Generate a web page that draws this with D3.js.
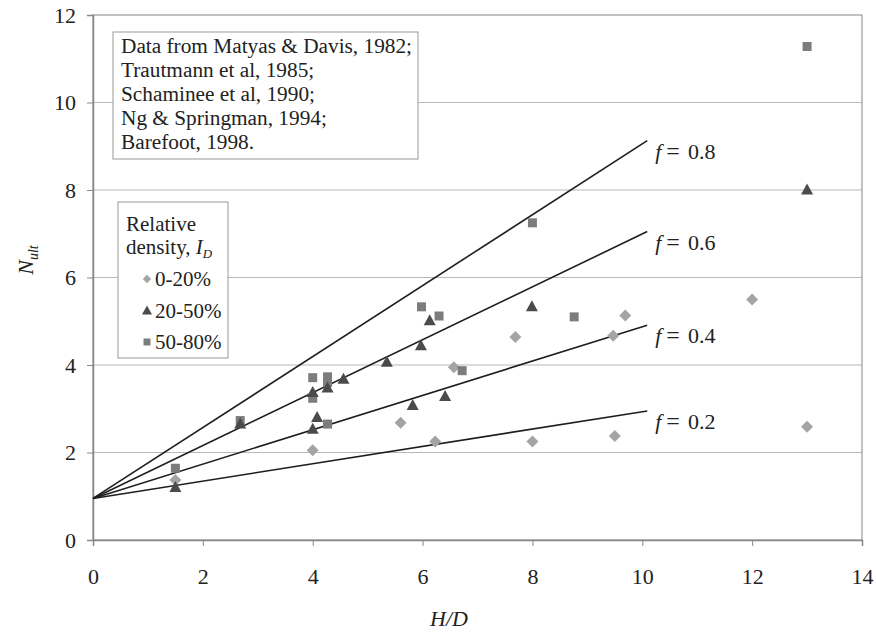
<!DOCTYPE html>
<html><head><meta charset="utf-8">
<script src="https://cdn.jsdelivr.net/npm/d3@7"></script>
</head>
<body style="margin:0"><svg id="c" width="876" height="639"></svg>
<script>
// ---- data ----
const xTicks = [0, 2, 4, 6, 8, 10, 12, 14];
const yTicks = [0, 2, 4, 6, 8, 10, 12];

// Relative density 0-20% (diamonds)
const looseHD = [1.5, 4.0, 5.6, 6.23, 6.57, 7.69, 8.0, 9.47, 9.69, 9.5, 12.0, 13.0];
const looseN  = [1.37, 2.05, 2.68, 2.25, 3.95, 4.64, 2.25, 4.67, 5.13, 2.38, 5.5, 2.59];

// Relative density 20-50% (triangles)
const mediumHD = [1.5, 2.68, 4.0, 4.08, 4.0, 4.27, 4.56, 5.35, 5.82, 5.97, 6.13, 6.41, 7.99, 13.0];
const mediumN  = [1.2, 2.65, 3.37, 2.8, 2.53, 3.47, 3.67, 4.06, 3.07, 4.44, 5.01, 3.28, 5.33, 8.0];

// Relative density 50-80% (squares)
const denseHD = [1.5, 2.68, 4.0, 4.0, 4.27, 4.27, 4.27, 5.98, 6.3, 6.72, 8.0, 8.76, 13.0];
const denseN  = [1.64, 2.73, 3.71, 3.24, 3.73, 3.6, 2.65, 5.33, 5.12, 3.87, 7.25, 5.1, 11.28];

// f lines: from (0, lineStartN) to (lineEndHD, lineEndN[i])
const fValues = ["0.8", "0.6", "0.4", "0.2"];
const lineStartN = 0.95;
const lineEndHD = 10.09;
const lineEndN = [9.13, 7.05, 4.91, 2.95];

const sourceLines = ["Data from Matyas & Davis, 1982;", "Trautmann et al, 1985;",
  "Schaminee et al, 1990;", "Ng & Springman, 1994;", "Barefoot, 1998."];
const legendLabels = ["0-20%", "20-50%", "50-80%"];

// ---- drawing ----
const FONT = '"Liberation Serif"';
const svg = d3.select("#c");
const L = 93, R = 862, T = 15, B = 540;
const x = d3.scaleLinear().domain([0, 14]).range([L, R]);
const y = d3.scaleLinear().domain([0, 12]).range([B, T]);

const colLoose = "#a4a4a4", colMed = "#4b4b4b", colDense = "#7c7c7c";

// gridlines
svg.append("g").selectAll("line").data(yTicks.filter(v => v > 0 && v < 12)).join("line")
  .attr("x1", L).attr("x2", R).attr("y1", d => y(d)).attr("y2", d => y(d))
  .attr("stroke", "#b8b8b8").attr("stroke-width", 1);

// plot border
svg.append("rect").attr("x", L).attr("y", T).attr("width", R - L).attr("height", B - T)
  .attr("fill", "none").attr("stroke", "#999").attr("stroke-width", 1.2);

// axes
const xAxis = svg.append("g").attr("transform", `translate(0,${B})`)
  .call(d3.axisBottom(x).tickValues(xTicks).tickSize(6).tickPadding(22).tickFormat(d3.format("d")));
const yAxis = svg.append("g").attr("transform", `translate(${L},0)`)
  .call(d3.axisLeft(y).tickValues(yTicks).tickSize(6).tickPadding(11).tickFormat(d3.format("d")));
[xAxis, yAxis].forEach(g => {
  g.attr("font-family", null).attr("font-size", null);
  g.select(".domain").attr("stroke", "#888").attr("stroke-width", 1.5);
  g.selectAll(".tick line").attr("stroke", "#888");
  g.selectAll(".tick text").attr("font-size", 22);
});

// f lines
const lineG = svg.append("g");
fValues.forEach((f, i) => {
  lineG.append("line")
    .attr("x1", x(0)).attr("y1", y(lineStartN))
    .attr("x2", x(lineEndHD)).attr("y2", y(lineEndN[i]))
    .attr("stroke", "#1e1e1e").attr("stroke-width", 1.6);
  const t = lineG.append("text")
    .attr("x", x(lineEndHD) + 8).attr("y", y(lineEndN[i]) + 18)
    .attr("font-size", 22);
  t.append("tspan").attr("font-style", "italic").text("f");
  t.append("tspan").attr("dx", 5).attr("font-size", 24).text("=");
  t.append("tspan").attr("dx", 8).text(f);
});

// markers
const diamond = s => `M0,${-s}L${s},0L0,${s}L${-s},0Z`;
const triangle = (w, h) => `M0,${-h * 0.6}L${w / 2},${h * 0.4}L${-w / 2},${h * 0.4}Z`;
const square = s => `M${-s / 2},${-s / 2}h${s}v${s}h${-s}Z`;

svg.append("g").selectAll("path").data(d3.zip(looseHD, looseN)).join("path")
  .attr("d", diamond(6)).attr("fill", colLoose)
  .attr("transform", d => `translate(${x(d[0])},${y(d[1])})`);
svg.append("g").selectAll("path").data(d3.zip(denseHD, denseN)).join("path")
  .attr("d", square(9)).attr("fill", colDense)
  .attr("transform", d => `translate(${x(d[0])},${y(d[1])})`);
svg.append("g").selectAll("path").data(d3.zip(mediumHD, mediumN)).join("path")
  .attr("d", triangle(12, 11)).attr("fill", colMed)
  .attr("transform", d => `translate(${x(d[0])},${y(d[1])})`);

// source box
const sb = svg.append("g");
sb.append("rect").attr("x", 113).attr("y", 32).attr("width", 305).attr("height", 127)
  .attr("fill", "#fff").attr("stroke", "#999").attr("stroke-width", 1);
sb.selectAll("text").data(sourceLines).join("text")
  .attr("x", 121).attr("y", (d, i) => 53 + i * 24).attr("font-size", 21.3).text(d => d);

// legend box
const lg = svg.append("g");
lg.append("rect").attr("x", 118).attr("y", 202).attr("width", 110).attr("height", 156)
  .attr("fill", "#fff").attr("stroke", "#999").attr("stroke-width", 1);
lg.append("text").attr("x", 126).attr("y", 231).attr("font-size", 21).text("Relative");
const dt = lg.append("text").attr("x", 126).attr("y", 254).attr("font-size", 21);
dt.append("tspan").text("density, ");
dt.append("tspan").attr("font-style", "italic").text("I");
dt.append("tspan").attr("font-style", "italic").attr("font-size", 13).attr("dy", 4).text("D");
const legY = [279, 311, 342];
const legShapes = [diamond(4.2), triangle(10, 9), square(7)];
const legCols = [colLoose, colMed, colDense];
legendLabels.forEach((lab, i) => {
  lg.append("path").attr("d", legShapes[i]).attr("fill", legCols[i])
    .attr("transform", `translate(147,${legY[i]})`);
  lg.append("text").attr("x", 155).attr("y", legY[i] + 7).attr("font-size", 21).text(lab);
});

// axis titles
svg.append("text").attr("x", 449).attr("y", 626).attr("font-size", 22)
  .attr("text-anchor", "middle").attr("font-style", "italic").text("H/D");
const yt = svg.append("text").attr("transform", "translate(33,260) rotate(-90)")
  .attr("font-size", 22).attr("text-anchor", "middle");
yt.append("tspan").attr("font-style", "italic").text("N");
yt.append("tspan").attr("font-style", "italic").attr("font-size", 14).attr("dy", 5).text("ult");

svg.selectAll("text").style("font-family", FONT).attr("fill", "#222");
</script>
</body></html>
